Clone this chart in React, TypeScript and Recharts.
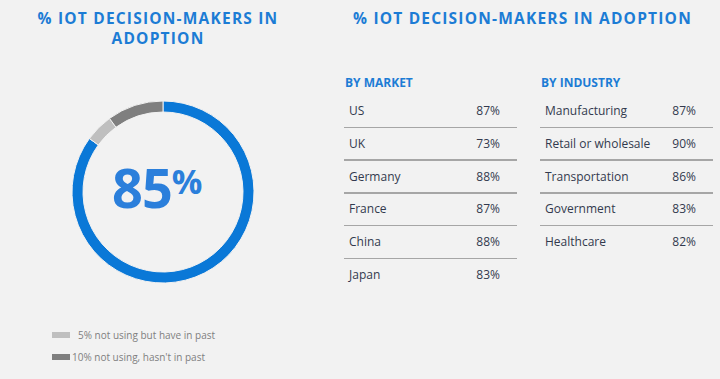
import React from 'react';
import { PieChart, Pie, Cell } from 'recharts';

document.body.style.margin = '0';

const adoptionParts = [
  { name: 'In adoption', value: 85 },
  { name: '5% not using but have in past', value: 5 },
  { name: "10% not using, hasn't in past", value: 10 },
];
const partColors = ['#0A78D7', '#BFBFBF', '#7F7F7F'];

const markets = ['US', 'UK', 'Germany', 'France', 'China', 'Japan'];
const marketValues = [87, 73, 88, 87, 88, 83];

const industries = ['Manufacturing', 'Retail or wholesale', 'Transportation', 'Government', 'Healthcare'];
const industryValues = [87, 90, 86, 83, 82];

const FONT = '"Open Sans", "Noto Sans", sans-serif';
const BLUE = '#1C7CD5';
const TEXT = '#323A4E';

function Table({ title, labels, values, left, width }: { title: string; labels: string[]; values: number[]; left: number; width: number }) {
  const rowH = 32.8;
  return (
    <div style={{ position: 'absolute', left, top: 0, width }}>
      <div style={{ position: 'absolute', top: 74, left: 1, fontSize: 12, fontWeight: 700, color: BLUE, whiteSpace: 'nowrap' }}>{title}</div>
      {labels.map((l, i) => (
        <React.Fragment key={l}>
          <div style={{ position: 'absolute', top: 102 + i * rowH, left: 5, fontSize: 12, color: TEXT, whiteSpace: 'nowrap' }}>{l}</div>
          <div style={{ position: 'absolute', top: 102 + i * rowH, right: 17, fontSize: 12, color: TEXT }}>{values[i]}%</div>
          {i < labels.length - 1 && (
            <div style={{ position: 'absolute', top: 126.5 + i * rowH, left: 0, width, height: 1.5, background: '#A6A6A6' }} />
          )}
        </React.Fragment>
      ))}
    </div>
  );
}

export default function App() {
  return (
    <div style={{ position: 'relative', width: 720, height: 379, background: '#F2F2F2', fontFamily: FONT, overflow: 'hidden' }}>
      <div style={{ position: 'absolute', left: 0, width: 316, top: 8, textAlign: 'center', fontSize: 15.5, fontWeight: 700, color: BLUE, letterSpacing: 1.2, lineHeight: '20px' }}>
        % IOT DECISION-MAKERS IN<br />ADOPTION
      </div>
      <div style={{ position: 'absolute', left: 353, top: 8, fontSize: 15.5, fontWeight: 700, color: BLUE, letterSpacing: 1.2, lineHeight: '20px', whiteSpace: 'nowrap' }}>
        % IOT DECISION-MAKERS IN ADOPTION
      </div>

      <div style={{ position: 'absolute', left: 0, top: 0 }}>
        <PieChart width={320} height={379}>
          <Pie
            data={adoptionParts}
            dataKey="value"
            cx={158}
            cy={187}
            innerRadius={80}
            outerRadius={91}
            startAngle={90}
            endAngle={-270}
            stroke="#F2F2F2"
            strokeWidth={1}
            isAnimationActive={false}
          >
            {adoptionParts.map((p, i) => (
              <Cell key={p.name} fill={partColors[i]} />
            ))}
          </Pie>
        </PieChart>
      </div>

      <div style={{ position: 'absolute', left: 112, top: 150, width: 100, whiteSpace: 'nowrap', color: '#2B7FDB', fontWeight: 700 }}>
        <span style={{ fontSize: 54, letterSpacing: -1 }}>{adoptionParts[0].value}</span>
        <span style={{ fontSize: 34, verticalAlign: 14 }}>%</span>
      </div>

      <div style={{ position: 'absolute', left: 52, top: 332, width: 18, height: 6, background: partColors[1] }} />
      <div style={{ position: 'absolute', left: 78, top: 328, fontSize: 10, color: '#7F7F7F', whiteSpace: 'nowrap' }}>{adoptionParts[1].name}</div>
      <div style={{ position: 'absolute', left: 52, top: 354, width: 18, height: 6, background: partColors[2] }} />
      <div style={{ position: 'absolute', left: 72, top: 350, fontSize: 10, color: '#7F7F7F', whiteSpace: 'nowrap' }}>{adoptionParts[2].name}</div>

      <Table title="BY MARKET" labels={markets} values={marketValues} left={344} width={173} />
      <Table title="BY INDUSTRY" labels={industries} values={industryValues} left={540} width={173} />
    </div>
  );
}
